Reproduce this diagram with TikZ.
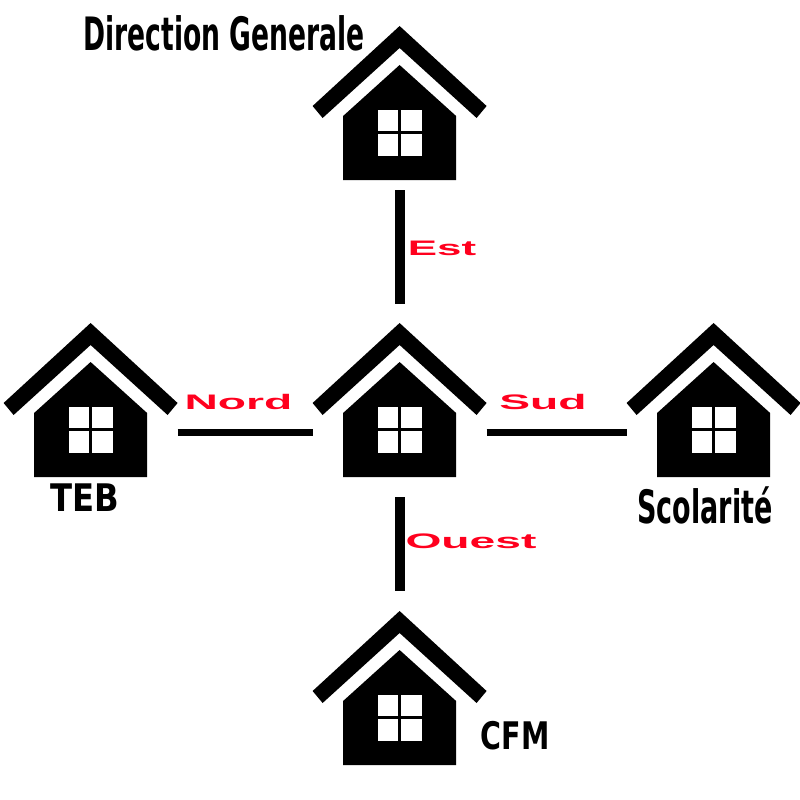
\documentclass[tikz,border=0pt]{standalone}
\usepackage{fontspec}
\usepackage{xcolor}
\usepackage{tikz}
\setmainfont{DejaVu Sans}
\newfontfamily\linkfont{Liberation Sans}
\definecolor{linkred}{RGB}{255, 0, 30}

\tikzset{
    housebox/.style={minimum width=174pt, minimum height=154pt, inner sep=0pt, outer sep=0pt},
    sitename/.style={anchor=base, inner sep=0pt, font=\bfseries\fontsize{46pt}{46pt}\selectfont},
    smallname/.style={anchor=base, inner sep=0pt, font=\bfseries\fontsize{38pt}{38pt}\selectfont},
    linkname/.style={anchor=base, inner sep=0pt, text=linkred, font=\linkfont\bfseries\fontsize{21pt}{21pt}\selectfont, xscale=2.2},
    hlink/.style={line width=7pt},
    vlink/.style={line width=10pt},
    pics/housepic/.style={code={
        \fill (0,0) -- (87,80) -- (77,92) -- (0,22) -- (-77,92) -- (-87,80) -- cycle;
        \fill (0,39) -- (56.5,90) -- (56.5,154) -- (-56.5,154) -- (-56.5,90) -- cycle;
        \fill[white] (-22,84) rectangle (-1.2,105);
        \fill[white] (1.2,84) rectangle (22.5,105);
        \fill[white] (-22,108) rectangle (-1.2,130);
        \fill[white] (1.2,108) rectangle (22.5,130);
    }}
}

\begin{document}
\begin{tikzpicture}[x=1pt, y=-1pt]
    \useasboundingbox (0,0) rectangle (800,800);

    % houses
    \foreach \name/\px/\py in {direction/399.6/26, main/399.6/323, teb/90.6/323, scolarite/713.6/323, cfm/399.6/611} {
        \pic at (\px,\py) {housepic};
        \node[housebox] (\name) at (\px,\py+77) {};
    }

    % links
    \draw[vlink, shorten <=10pt, shorten >=19pt] (direction.south) -- (main.north);
    \draw[vlink, shorten <=20pt, shorten >=20pt] (main.south) -- (cfm.north);
    \draw[hlink] ([yshift=-32pt]teb.east) -- ([yshift=-32pt]main.west);
    \draw[hlink] ([yshift=-32pt]main.east) -- ([yshift=-32pt]scolarite.west);

    % link labels
    \node[linkname, xscale=0.95] (est) at (442,255) {Est};
    \node[linkname] (nord) at (238.5,409) {Nord};
    \node[linkname] (sud) at (543,409) {Sud};
    \node[linkname] (ouest) at (471,548) {Ouest};

    % site labels
    \node[sitename, xscale=0.578] (directionlabel) at (224,51) {Direction Generale};
    \node[smallname, xscale=0.85] (teblabel) at (85,511) {TEB};
    \node[sitename, xscale=0.587] (scolaritelabel) at (705,523) {Scolarité};
    \node[smallname, xscale=0.75] (cfmlabel) at (515,749) {CFM};
\end{tikzpicture}
\end{document}
